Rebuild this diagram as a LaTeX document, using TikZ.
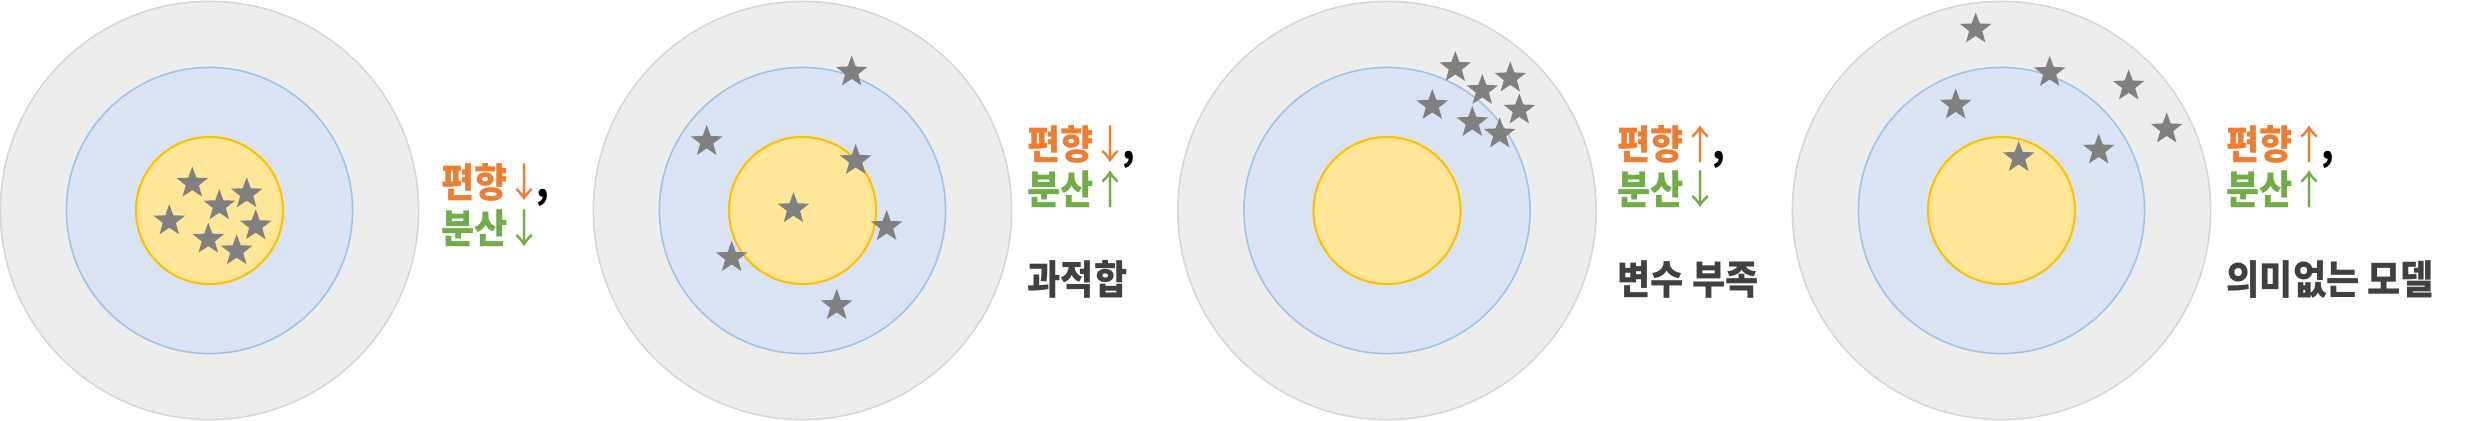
\documentclass[tikz,border=0pt]{standalone}
\usepackage{fontspec}
\usepackage{xcolor}
\usepackage{tikz}
\usetikzlibrary{shapes.geometric}
\newfontfamily\krfont[FakeStretch=0.9]{Noto Sans CJK KR}
\newcommand{\arrdn}{{\mdseries\kern-0.05em↓\kern-0.14em}}
\newcommand{\arrup}{{\mdseries\kern-0.05em↑\kern-0.14em}}
\definecolor{ringgray}{HTML}{EDEDED}
\definecolor{ringline}{HTML}{D6D6D6}
\definecolor{ringblue}{HTML}{DAE3F3}
\definecolor{blueline}{HTML}{9DC3E6}
\definecolor{ringyellow}{HTML}{FFE699}
\definecolor{yellowline}{HTML}{FFC000}
\definecolor{stargray}{HTML}{808080}
\definecolor{biasorange}{HTML}{ED7D31}
\definecolor{vargreen}{HTML}{70AD47}
\definecolor{notegray}{HTML}{404040}
\tikzstyle{outerring} = [circle, minimum size=4.18cm, inner sep=0pt, draw=ringline, fill=ringgray, line width=0.45pt]
\tikzstyle{midring} = [circle, minimum size=2.86cm, inner sep=0pt, draw=blueline, fill=ringblue, line width=0.45pt]
\tikzstyle{innerring} = [circle, minimum size=1.47cm, inner sep=0pt, draw=yellowline, fill=ringyellow, line width=0.6pt]
\tikzstyle{starpt} = [star, star points=5, star point ratio=2.4, minimum size=0.33cm, inner sep=0pt, fill=stargray]
\tikzstyle{biastext} = [anchor=base west, inner sep=0pt, font=\krfont\bfseries\fontsize{11.4pt}{13pt}\selectfont, text=biasorange]
\tikzstyle{vartext} = [biastext, text=vargreen]
\tikzstyle{notetext} = [biastext, text=notegray]

\begin{document}
\begin{tikzpicture}[x=0.01cm, y=-0.01cm]
	\useasboundingbox (0,0) rectangle (2474,420);
	
	% target 1: low bias, low variance
	\node (o1) [outerring] at (209.5,210.5) {};
	\node (b1) [midring] at (209.5,210.5) {};
	\node (y1) [innerring] at (209.5,210.5) {};
	\node (s11) [starpt] at (192.3,183.2) {};
	\node (s12) [starpt] at (246.7,193.8) {};
	\node (s13) [starpt] at (219.3,205.8) {};
	\node (s14) [starpt] at (169.3,220.8) {};
	\node (s15) [starpt] at (255.7,225.8) {};
	\node (s16) [starpt] at (208.3,239.2) {};
	\node (s17) [starpt] at (236.7,250.8) {};
	\node (t1a) [biastext] at (441,197) {편향\arrdn\textcolor{black}{,}};
	\node (t1b) [vartext] at (441,243) {분산\arrdn};
	
	% target 2: overfitting
	\node (o2) [outerring] at (802.5,210.5) {};
	\node (b2) [midring] at (802.5,210.5) {};
	\node (y2) [innerring] at (802.5,210.5) {};
	\node (s21) [starpt] at (851.7,72) {};
	\node (s22) [starpt] at (706.7,141.5) {};
	\node (s23) [starpt] at (855.7,160.5) {};
	\node (s24) [starpt] at (793.5,208.8) {};
	\node (s25) [starpt] at (886.7,226.5) {};
	\node (s26) [starpt] at (731.7,257.5) {};
	\node (s27) [starpt] at (836.7,305.5) {};
	\node (t2a) [biastext] at (1027,159) {편향\arrdn\textcolor{black}{,}};
	\node (t2b) [vartext] at (1027,204) {분산\arrup};
	\node (t2c) [notetext] at (1027,294) {과적합};
	
	% target 3: too few variables
	\node (o3) [outerring] at (1387,210.5) {};
	\node (b3) [midring] at (1387,210.5) {};
	\node (y3) [innerring] at (1387,210.5) {};
	\node (s31) [starpt] at (1455.3,67.5) {};
	\node (s32) [starpt] at (1510.3,78) {};
	\node (s33) [starpt] at (1482.3,90.5) {};
	\node (s34) [starpt] at (1432.3,105.5) {};
	\node (s35) [starpt] at (1519.3,110) {};
	\node (s36) [starpt] at (1472.3,122.5) {};
	\node (s37) [starpt] at (1499.7,134) {};
	\node (t3a) [biastext] at (1617,159) {편향\arrup\textcolor{black}{,}};
	\node (t3b) [vartext] at (1617,204) {분산\arrdn};
	\node (t3c) [notetext] at (1617,294) {변수 부족};
	
	% target 4: meaningless model
	\node (o4) [outerring] at (2001.5,210.5) {};
	\node (b4) [midring] at (2001.5,210.5) {};
	\node (y4) [innerring] at (2001.5,210.5) {};
	\node (s41) [starpt] at (1975.7,29) {};
	\node (s42) [starpt] at (2049.7,72.5) {};
	\node (s43) [starpt] at (2128.7,86) {};
	\node (s44) [starpt] at (1955.7,105) {};
	\node (s45) [starpt] at (2166.7,129) {};
	\node (s46) [starpt] at (2098.7,150) {};
	\node (s47) [starpt] at (2018.7,157.5) {};
	\node (t4a) [biastext] at (2226,159) {편향\arrup\textcolor{black}{,}};
	\node (t4b) [vartext] at (2226,204) {분산\arrup};
	\node (t4c) [notetext] at (2226,294) {의미없는 모델};
	
\end{tikzpicture}
\end{document}
